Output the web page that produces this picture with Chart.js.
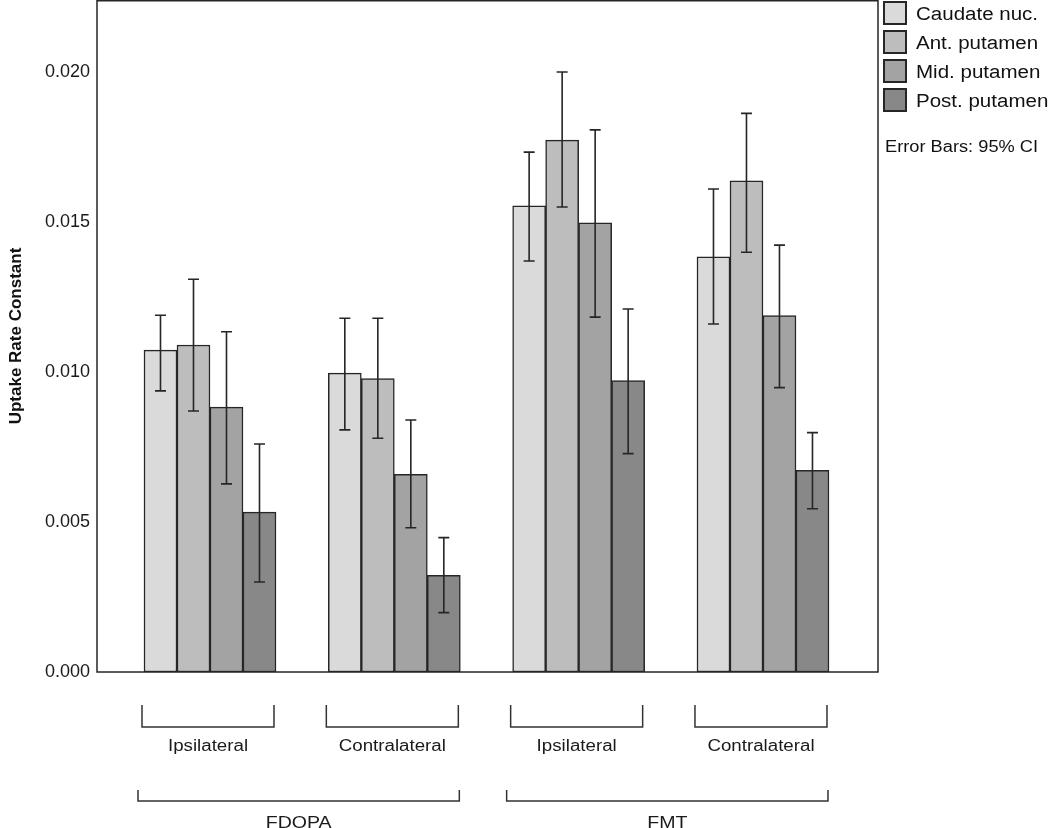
<!DOCTYPE html>
<html>
<head>
<meta charset="utf-8">
<script src="https://cdn.jsdelivr.net/npm/chart.js@4"></script>
<style>
  html, body { margin: 0; padding: 0; background: #fff; }
  #wrap { width: 1050px; height: 828px; position: relative; }
</style>
</head>
<body>
<div id="wrap"><canvas id="chart"></canvas></div>
<script>
// sides within each tracer, and the tracers
const sides = ['Ipsilateral', 'Contralateral', 'Ipsilateral', 'Contralateral'];
const tracers = ['FDOPA', 'FMT'];
const regions = ['Caudate nuc.', 'Ant. putamen', 'Mid. putamen', 'Post. putamen'];
const yTicks = [0, 0.005, 0.010, 0.015, 0.020];

// means and 95% CI bounds
const caudate   = [0.01073, 0.00996, 0.01554, 0.01384];
const caudateLo = [0.00937, 0.00807, 0.01370, 0.01160];
const caudateHi = [0.01189, 0.01179, 0.01733, 0.01610];

const antPut   = [0.01090, 0.00978, 0.01773, 0.01637];
const antPutLo = [0.00870, 0.00779, 0.01550, 0.01399];
const antPutHi = [0.01309, 0.01179, 0.02000, 0.01862];

const midPut   = [0.00883, 0.00659, 0.01497, 0.01188];
const midPutLo = [0.00627, 0.00481, 0.01183, 0.00948];
const midPutHi = [0.01134, 0.00840, 0.01807, 0.01423];

const postPut   = [0.00533, 0.00322, 0.00971, 0.00672];
const postPutLo = [0.00300, 0.00198, 0.00728, 0.00544];
const postPutHi = [0.00760, 0.00448, 0.01210, 0.00798];

const fills = ['#dadada', '#bdbdbd', '#a3a3a3', '#888888'];
const ink = '#262626';
const FONT = "'Liberation Sans', Arial, sans-serif";

Chart.defaults.font.family = FONT;
Chart.defaults.color = '#1a1a1a';

function series(vals, lo, hi) {
    return vals.map((v, i) => ({ x: i + 1, y: v, lo: lo[i], hi: hi[i] }));
}

// the source figure's lettering is a bit wider than Arial, so stretch it
function wideText(ctx, text, x, y, sx) {
    ctx.save();
    ctx.translate(x, y);
    ctx.scale(sx, 1);
    ctx.fillText(text, 0, 0);
    ctx.restore();
}

const frame = {
    id: 'frame',
    afterDatasetsDraw(chart) {
        const { ctx, chartArea: a } = chart;
        ctx.save();
        ctx.strokeStyle = ink;
        ctx.lineWidth = 1.5;
        ctx.strokeRect(a.left, a.top + 0.75, a.right - a.left, a.bottom - a.top - 0.75);
        ctx.restore();
    }
};

const errorBars = {
    id: 'errorBars',
    afterDatasetsDraw(chart) {
        const { ctx } = chart;
        const y = chart.scales.y;
        ctx.save();
        ctx.strokeStyle = ink;
        ctx.lineWidth = 1.6;
        chart.data.datasets.forEach((ds, di) => {
            chart.getDatasetMeta(di).data.forEach((bar, i) => {
                const p = ds.data[i];
                const top = y.getPixelForValue(p.hi), bot = y.getPixelForValue(p.lo);
                ctx.beginPath();
                ctx.moveTo(bar.x, top); ctx.lineTo(bar.x, bot);
                ctx.moveTo(bar.x - 5.5, top); ctx.lineTo(bar.x + 5.5, top);
                ctx.moveTo(bar.x - 5.5, bot); ctx.lineTo(bar.x + 5.5, bot);
                ctx.stroke();
            });
        });
        ctx.restore();
    }
};

function bracket(ctx, x1, x2, yTop, yBot) {
    ctx.beginPath();
    ctx.moveTo(x1, yTop); ctx.lineTo(x1, yBot); ctx.lineTo(x2, yBot); ctx.lineTo(x2, yTop);
    ctx.stroke();
}

const brackets = {
    id: 'brackets',
    afterDraw(chart) {
        const { ctx, chartArea: a } = chart;
        const first = chart.getDatasetMeta(0).data;
        const last = chart.getDatasetMeta(chart.data.datasets.length - 1).data;
        const left = i => first[i].x - first[i].width / 2 - 2;
        const right = i => last[i].x + last[i].width / 2 - 2;
        ctx.save();
        ctx.strokeStyle = '#333';
        ctx.lineWidth = 1.5;
        ctx.fillStyle = '#1a1a1a';
        ctx.textAlign = 'center';
        ctx.textBaseline = 'middle';
        ctx.font = '16px ' + FONT;
        sides.forEach((s, i) => {
            bracket(ctx, left(i), right(i), a.bottom + 33, a.bottom + 55);
            wideText(ctx, s, (left(i) + right(i)) / 2, a.bottom + 75, 1.17);
        });
        ctx.font = '17px ' + FONT;
        tracers.forEach((t, k) => {
            const x1 = left(k * 2) - 4, x2 = right(k * 2 + 1) + 1;
            bracket(ctx, x1, x2, a.bottom + 118, a.bottom + 129);
            wideText(ctx, t, (x1 + x2) / 2, a.bottom + 151, 1.15);
        });
        ctx.restore();
    }
};

const legendBox = {
    id: 'legendBox',
    afterDraw(chart) {
        const { ctx, chartArea: a } = chart;
        const x0 = a.right + 6;
        ctx.save();
        ctx.textBaseline = 'middle';
        ctx.textAlign = 'left';
        regions.forEach((r, i) => {
            const yc = 13 + i * 29;
            ctx.fillStyle = fills[i];
            ctx.fillRect(x0, yc - 11, 22, 22);
            ctx.strokeStyle = ink;
            ctx.lineWidth = 2;
            ctx.strokeRect(x0, yc - 11, 22, 22);
            ctx.fillStyle = '#111';
            ctx.font = '18px ' + FONT;
            wideText(ctx, r, x0 + 32, yc + 2, 1.14);
        });
        ctx.font = '16px ' + FONT;
        wideText(ctx, 'Error Bars: 95% CI', x0 + 1, 148, 1.14);
        ctx.restore();
    }
};

const ctx = document.getElementById('chart').getContext('2d');

const chart = new Chart(ctx, {
    type: 'bar',
    data: {
        datasets: [
            { label: regions[0], data: series(caudate, caudateLo, caudateHi), backgroundColor: fills[0] },
            { label: regions[1], data: series(antPut, antPutLo, antPutHi), backgroundColor: fills[1] },
            { label: regions[2], data: series(midPut, midPutLo, midPutHi), backgroundColor: fills[2] },
            { label: regions[3], data: series(postPut, postPutLo, postPutHi), backgroundColor: fills[3] }
        ]
    },
    options: {
        responsive: true,
        maintainAspectRatio: false,
        animation: false,
        datasets: {
            bar: {
                barThickness: 33,
                borderColor: ink,
                borderWidth: 1.5,
                borderSkipped: false
            }
        },
        layout: { padding: { left: 0, right: 172, top: 0, bottom: 156 } },
        plugins: {
            legend: { display: false },
            tooltip: { enabled: false }
        },
        scales: {
            x: {
                type: 'linear',
                display: false,
                offset: false,
                grid: { offset: false },
                min: 0.387,
                max: 4.624,
                ticks: { stepSize: 1, includeBounds: false }
            },
            y: {
                min: 0,
                max: 0.0224,
                grid: { display: false, drawTicks: false },
                border: { display: false },
                afterBuildTicks: s => { s.ticks = yTicks.map(v => ({ value: v })); },
                ticks: {
                    padding: 7,
                    font: { size: 18 },
                    color: '#1a1a1a',
                    callback: v => v.toFixed(3)
                },
                title: {
                    display: true,
                    text: 'Uptake Rate Constant',
                    font: { size: 17, weight: 'bold' },
                    color: '#111',
                    padding: { top: 6, bottom: 0 }
                },
                afterFit: s => {
                    s.width = 97;
                    s.paddingTop = 0;
                    s.paddingBottom = 0;
                }
            }
        }
    },
    plugins: [frame, errorBars, brackets, legendBox]
});
</script>
</body>
</html>
